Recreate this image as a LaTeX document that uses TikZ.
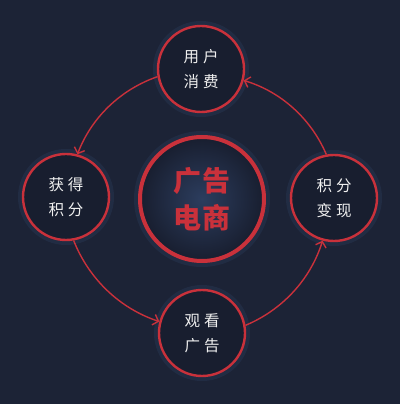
\documentclass[tikz,border=0pt]{standalone}
\usepackage{fontspec}
\newfontfamily\cjk{Noto Sans CJK SC}
\usepackage{tikz}
\usetikzlibrary{arrows.meta}
\definecolor{bgnavy}{HTML}{1C2336}
\definecolor{ringred}{HTML}{C9313B}
\definecolor{cellnavy}{HTML}{181E2F}
\definecolor{hubblue}{HTML}{2C3D5E}

\begin{document}
\begin{tikzpicture}[
    x=1pt, y=1pt,
    cell/.style={circle, draw=ringred, line width=2.4pt, fill=cellnavy, minimum size=86pt, inner sep=0pt,
        align=center, text=white!94!black, font=\cjk\fontsize{15.5}{25}\selectfont},
    hub/.style={circle, draw=ringred, line width=4pt, inner color=hubblue, outer color=cellnavy, minimum size=124pt,
        inner sep=0pt, align=center, text=ringred, font=\cjk\bfseries\fontsize{28}{37}\selectfont},
    glow/.style={circle, draw=hubblue, draw opacity=0.35, line width=5pt, inner sep=0pt},
    flow/.style={-{Straight Barb[length=5pt, width=11pt]}, draw=ringred, line width=1.4pt, bend right=25, looseness=0.9}
]
    \fill[bgnavy] (0,0) rectangle (400,404);
    \useasboundingbox (0,0) rectangle (400,404);
    % soft glow round the circles
    \node[glow, minimum size=91pt] at (201,335) {};
    \node[glow, minimum size=91pt] at (66,207) {};
    \node[glow, minimum size=91pt] at (334,206) {};
    \node[glow, minimum size=91pt] at (202,71) {};
    \node[glow, minimum size=131pt] at (202,205) {};
    % circles
    \node[hub] (hub) at (202,205) {广\kern2pt 告\\电\kern2pt 商};
    \node[cell] (yonghu) at (201,335) {用\kern4pt 户\\消\kern4pt 费};
    \node[cell] (huode) at (66,207) {获\kern4pt 得\\积\kern4pt 分};
    \node[cell] (guankan) at (202,71) {观\kern4pt 看\\广\kern4pt 告};
    \node[cell] (bianxian) at (334,206) {积\kern4pt 分\\变\kern4pt 现};
    % cycle
    \draw[flow] (yonghu.190) to (huode.75);
    \draw[flow] (huode.280) to (guankan.165);
    \draw[flow] (guankan.10) to (bianxian.255);
    \draw[flow] (bianxian.100) to (yonghu.345);
\end{tikzpicture}
\end{document}
